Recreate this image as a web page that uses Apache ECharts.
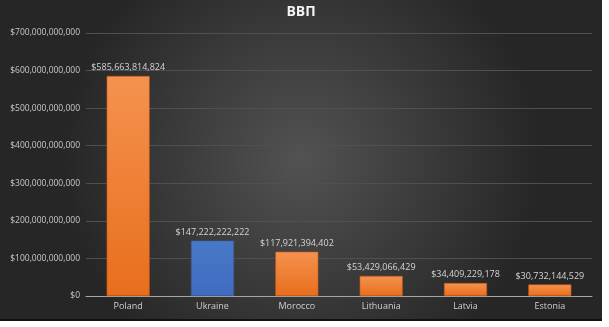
<!DOCTYPE html>
<html><head><meta charset="utf-8">
<script src="https://cdn.jsdelivr.net/npm/echarts@6/dist/echarts.min.js"></script>
<style>
html,body{margin:0;padding:0;background:#fff;}
#c{width:602px;height:319px;border-bottom:2px solid #111;}
</style></head>
<body><div id="c"></div>
<script>
const categories = ['Poland','Ukraine','Morocco','Lithuania','Latvia','Estonia'];
const gdpValues = [585663814824,147222222222,117921394402,53429066429,34409229178,30732144529];
const highlighted = [false,true,false,false,false,false];
const yTicks = {min:0,max:700000000000,interval:100000000000};
const titleText = 'ВВП';

const fmt = v => '$' + Math.round(v).toLocaleString('en-US');
const orange = {type:'linear',x:0,y:0,x2:0,y2:1,colorStops:[{offset:0,color:'#f5924f'},{offset:1,color:'#e86e1c'}]};
const blue = {type:'linear',x:0,y:0,x2:0,y2:1,colorStops:[{offset:0,color:'#4a78c8'},{offset:1,color:'#3f6cbf'}]};

const chart = echarts.init(document.getElementById('c'));
chart.setOption({
  backgroundColor: {type:'radial',x:0.5,y:0.5,r:0.75,colorStops:[{offset:0,color:'#525252'},{offset:1,color:'#262626'}]},
  animation:false,
  title:{text:titleText,left:'center',top:0,textStyle:{color:'#f2f2f2',fontSize:14,fontWeight:'bold',fontFamily:'Open Sans'}},
  grid:{left:86,right:10,top:33,bottom:23},
  xAxis:{type:'category',data:categories,
    axisLine:{lineStyle:{color:'#a6a6a6',width:1}},axisTick:{show:false},
    axisLabel:{color:'#cfcfcf',fontSize:9,fontFamily:'Open Sans',margin:6}},
  yAxis:{type:'value',min:yTicks.min,max:yTicks.max,interval:yTicks.interval,
    axisLine:{show:false},axisTick:{show:false},
    splitLine:{lineStyle:{color:'#505050',width:1}},
    axisLabel:{color:'#c8c8c8',fontSize:8.5,fontFamily:'Open Sans',margin:6,formatter:fmt}},
  series:[{type:'bar',barWidth:'51%',
    data:gdpValues.map((v,i)=>({value:v,itemStyle:{color:highlighted[i]?blue:orange,borderColor:highlighted[i]?'#3a5f9e':'#c45a14',borderWidth:0.6}})),
    label:{show:true,position:'top',distance:4,color:'#d4d4d4',fontSize:9,fontFamily:'Open Sans',formatter:p=>fmt(p.value)}}]
});
</script></body></html>
